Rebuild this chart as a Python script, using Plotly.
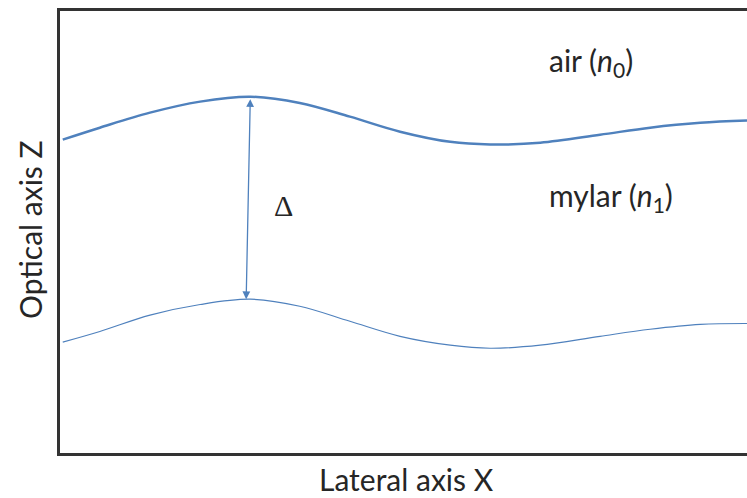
import plotly.graph_objects as go

# Lateral position (arbitrary units, 0-100)
x_pos = [0.4, 5.8, 13.1, 20.4, 27.7, 34.9, 42.2, 49.5, 56.8, 62.6, 69.9, 78.6, 85.9, 93.2, 100.0]
# Upper interface (air / mylar)
z_upper = [70.9, 73.6, 77.0, 79.5, 80.6, 79.2, 76.1, 72.7, 70.4, 69.8, 70.2, 72.0, 73.6, 74.7, 75.2]
# Lower interface (mylar bottom)
z_lower = [25.1, 27.5, 31.2, 33.6, 34.8, 33.2, 29.8, 26.4, 24.4, 23.7, 24.4, 26.4, 28.0, 29.1, 29.3]

# Thickness arrow endpoints
delta_x = [27.7, 27.1]
delta_z = [80.4, 34.8]

labels = ["air (<i>n</i><sub>0</sub>)", "mylar (<i>n</i><sub>1</sub>)", "Δ"]
label_x = [70.9, 70.9, 30.9]
label_z = [88.5, 58.0, 56.0]

blue = "#4F81BD"
sans = "Lato, 'Open Sans', sans-serif"
txt = "#262626"

fig = go.Figure()
fig.add_trace(go.Scatter(x=x_pos, y=z_upper, mode="lines",
                         line=dict(color=blue, width=2.5, shape="spline"),
                         hoverinfo="skip"))
fig.add_trace(go.Scatter(x=x_pos, y=z_lower, mode="lines",
                         line=dict(color=blue, width=1.2, shape="spline"),
                         hoverinfo="skip"))

fig.add_annotation(x=delta_x[1], y=delta_z[1], ax=delta_x[0], ay=delta_z[0],
                   xref="x", yref="y", axref="x", ayref="y",
                   showarrow=True, arrowhead=2, startarrowhead=2,
                   arrowside="end+start", arrowsize=1.2, startarrowsize=1.2,
                   arrowwidth=1.3, arrowcolor=blue, text="")

for i, t in enumerate(labels):
    fnt = dict(family=sans, size=30, color=txt)
    if t == "Δ":
        fnt = dict(family="'Liberation Serif', serif", size=30, color=txt)
    fig.add_annotation(x=label_x[i], y=label_z[i], xref="x", yref="y",
                       text=t, showarrow=False, xanchor="left", yanchor="middle",
                       font=fnt)

fig.add_annotation(x=(406 - 60) / 687, y=(453 - 479) / 442, xref="paper", yref="paper",
                   text="Lateral axis X", showarrow=False, xanchor="center", yanchor="middle",
                   font=dict(family=sans, size=30, color=txt))
fig.add_annotation(x=(30 - 60) / 687, y=(453 - 230) / 442, xref="paper", yref="paper",
                   text="Optical axis Z", showarrow=False, xanchor="center", yanchor="middle",
                   textangle=-90,
                   font=dict(family=sans, size=30, color=txt))

fig.update_layout(
    width=747, height=498,
    margin=dict(l=60, r=0, t=11, b=45),
    plot_bgcolor="white", paper_bgcolor="white",
    showlegend=False,
    xaxis=dict(range=[0, 100], showgrid=False, zeroline=False, showticklabels=False,
               ticks="", showline=True, linecolor="#333333", linewidth=2.5, mirror=True),
    yaxis=dict(range=[0, 100], showgrid=False, zeroline=False, showticklabels=False,
               ticks="", showline=True, linecolor="#333333", linewidth=2.5),
)

fig.write_html("out.html", config={"displayModeBar": False},
               post_script="document.body.style.margin='0px';")
